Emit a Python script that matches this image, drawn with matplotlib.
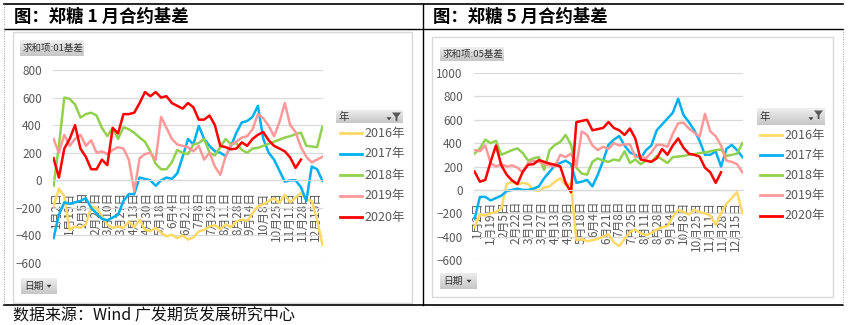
import numpy as np
import matplotlib
matplotlib.use("Agg")
import matplotlib.pyplot as plt
from matplotlib.lines import Line2D
from matplotlib.patches import Rectangle, Polygon

plt.rcParams['font.family'] = ['Noto Sans CJK SC', 'DejaVu Sans']

W, H = 853, 325
nan = np.nan

# ---------------- data ----------------
date_labels = ['1月2日', '1月19日', '2月5日', '2月22日', '3月10日', '3月27日', '4月13日',
               '4月30日', '5月18日', '6月4日', '6月21日', '7月8日', '7月25日', '8月11日',
               '8月28日', '9月14日', '10月8日', '10月25日', '11月11日', '11月28日', '12月15日']
years = ['2016年', '2017年', '2018年', '2019年', '2020年']
colors = ['#FFD966', '#00B0F0', '#92D050', '#FF9999', '#FF0000']

# chart 1: 01 basis, sampled every 5th trading-day category
y2016_01 = [-190, -60, -115, -360, -335, -345, -320, -190, -200, -260, -320, -345, -335, -345, -300,
            -340, -285, -360, -370, -345, -380, -407, -395, -420, -400, -430, -415, -370, -360, -335,
            -325, -355, -320, -340, -300, -285, -295, -240, -190, -175, -150, -130, -165, -105, -160,
            -125, -92, -140, -150, -285, -470]
y2017_01 = [-420, -250, -160, -170, -160, -150, -130, -200, -240, -280, -290, -270, -250, -150, -100,
            -100, 20, 10, 0, -40, 0, 20, 10, 50, 170, 300, 260, 395, 300, 250,
            210, 200, 175, 250, 345, 420, 430, 460, 540, 300, 200, 150, 70, -10, 0,
            0, -50, -150, 100, 80, -5]
y2018_01 = [-40, 250, 600, 590, 550, 455, 480, 490, 470, 380, 320, 380, 300, 385, 370,
            345, 310, 280, 210, 120, 80, 80, 130, 220, 200, 190, 260, 270, 300, 200,
            180, 240, 300, 260, 270, 220, 200, 230, 235, 250, 265, 280, 295, 310, 320,
            335, 345, 250, 245, 240, 390]
y2019_01 = [300, 200, 330, 250, 300, 330, 250, 290, 200, 210, 190, 220, 240, 230, 150,
            -80, 160, 190, 200, 150, 460, 380, 300, 260, 250, 240, 210, 250, 150, 200,
            100, 40, 175, 260, 280, 310, 320, 370, 480, 450, 395, 320, 420, 560, 400,
            350, 240, 170, 130, 150, 170]
y2020_01 = [160, 20, 230, 300, 400, 230, 170, 80, 80, 150, 110, 380, 340, 480, 480,
            490, 560, 640, 610, 640, 600, 610, 560, 540, 520, 560, 530, 440, 440, 470,
            400, 250, 240, 225, 230, 275, 250, 300, 330, 350, 290, 250, 230, 210, 165,
            90, 150, nan, nan, nan, nan]

# chart 2: 05 basis
y2016_05 = [-320, -210, -220, -200, -190, -160, 50, 70, 45, 60, 50, 0, -10, 20, 30,
            70, 100, 40, 50, -430, -420, -440, -430, -420, -400, -380, -450, -480, -420, -360,
            -340, -370, -390, -370, -340, -320, -310, -230, -170, -190, -210, -170, -190, -200, -220,
            -300, -200, -120, -70, -20, -200]
y2017_05 = [-250, -60, -60, -90, -70, -50, -10, 0, 10, 0, 0, 10, 30, 100, 155,
            210, 230, 250, 220, 60, 70, 85, 30, 130, 250, 385, 430, 460, 380, 320,
            300, 270, 340, 380, 510, 560, 610, 660, 780, 640, 580, 510, 420, 300, 300,
            330, 200, 350, 385, 340, 280]
y2018_05 = [310, 355, 430, 400, 420, 300, 320, 340, 355, 315, 250, 270, 280, 170, 340,
            385, 410, 470, 385, 190, 140, 130, 240, 270, 250, 240, 260, 250, 330, 230,
            260, 220, 250, 240, 290, 260, 230, 280, 285, 290, 300, 305, 315, 320, 330,
            340, 345, 290, 300, 310, 400]
y2019_05 = [340, 330, 380, 230, 200, 220, 200, 210, 190, 150, 230, 250, 240, 220, 210,
            200, 300, 280, 310, 200, 500, 470, 380, 340, 370, 350, 400, 380, 390, 390,
            280, 290, 270, 320, 385, 385, 370, 480, 570, 575, 525, 490, 455, 650, 500,
            460, 380, 250, 240, 220, 150]
y2020_05 = [157, 70, 85, 240, 380, 210, 130, 80, 50, 155, 215, 220, 255, 240, 225,
            215, 200, 60, -20, 580, 590, 600, 510, 520, 530, 580, 530, 510, 470, 525,
            440, 260, 250, 240, 270, 350, 300, 380, 440, 360, 310, 300, 285, 190, 150,
            60, 150, nan, nan, nan, nan]

series_01 = [y2016_01, y2017_01, y2018_01, y2019_01, y2020_01]
series_05 = [y2016_05, y2017_05, y2018_05, y2019_05, y2020_05]

n_cat = 250
sample_step = 5
label_step = 12
label_start = 3

# ---------------- helpers ----------------
fig = plt.figure(figsize=(W / 100, H / 100), dpi=100)
fig.patch.set_facecolor('white')


def fx(p):
    return p / W


def fy(p):
    return 1 - p / H


def hline(x0, x1, y, **kw):
    fig.add_artist(Line2D([fx(x0), fx(x1)], [fy(y), fy(y)], transform=fig.transFigure, **kw))


def vline(x, y0, y1, **kw):
    fig.add_artist(Line2D([fx(x), fx(x)], [fy(y0), fy(y1)], transform=fig.transFigure, **kw))


def rect(x0, y0, x1, y1, **kw):
    fig.add_artist(Rectangle((fx(x0), fy(y1)), fx(x1) - fx(x0), fy(y0) - fy(y1),
                             transform=fig.transFigure, **kw))


def button(x0, y0, x1, y1):
    bax = fig.add_axes([fx(x0), fy(y1), fx(x1) - fx(x0), fy(y0) - fy(y1)])
    grad = np.linspace(0.93, 0.78, 20).reshape(-1, 1)
    bax.imshow(np.repeat(grad, 2, axis=1), cmap='gray', vmin=0, vmax=1, aspect='auto')
    bax.set_axis_off()


def dropdown(x, y):
    fig.add_artist(Polygon([[fx(x - 2.5), fy(y - 1.2)], [fx(x + 2.5), fy(y - 1.2)], [fx(x), fy(y + 1.8)]],
                           closed=True, transform=fig.transFigure, color='#404040', lw=0))


def funnel(x, y):
    pts = [(x, y), (x + 9, y), (x + 5.5, y + 4.5), (x + 5.5, y + 9), (x + 3.5, y + 8), (x + 3.5, y + 4.5)]
    fig.add_artist(Polygon([[fx(a), fy(b)] for a, b in pts], closed=True,
                           transform=fig.transFigure, color='#595959', lw=0))


# ---------------- frame ----------------
hline(4, 843, 4, color='black', lw=1.2)
hline(4, 843, 29, color='black', lw=1.0)
hline(4, 843, 305, color='black', lw=1.2)
vline(423, 4, 305, color='black', lw=1.0)
vline(4, 4, 305, color='#A0A0A0', lw=0.7, ls=(0, (1, 1.5)))
vline(843, 29, 305, color='#A0A0A0', lw=0.7, ls=(0, (1, 1.5)))

fig.text(fx(14), fy(16.5), '图：郑糖 1 月合约基差', fontsize=12.5, fontweight='bold', va='center', ha='left')
fig.text(fx(433), fy(16.5), '图：郑糖 5 月合约基差', fontsize=12.5, fontweight='bold', va='center', ha='left')
fig.text(fx(13), fy(316), '数据来源：Wind 广发期货发展研究中心', fontsize=11.5, va='center', ha='left',
         color='#111111')

# ---------------- charts ----------------
panels = [
    dict(series=series_01, ylim=(-600, 800), ax=(53, 70, 323, 263), area=(13, 32, 412, 303),
         btn=(20, 40, 84, 56), btn_text='求和项:01基差', date_btn=(21, 278, 57, 294),
         leg_box=(336, 110, 403, 123), leg_x=340, leg_y=[133, 154, 175, 196, 217]),
    dict(series=series_05, ylim=(-600, 1000), ax=(474, 73, 743, 260), area=(432, 37, 833, 297),
         btn=(440, 47, 504, 61), btn_text='求和项:05基差', date_btn=(440, 273, 477, 289),
         leg_box=(757, 108, 825, 125), leg_x=760, leg_y=[135, 155, 175, 195, 216]),
]

sample_pos = np.arange(0, n_cat + 1, sample_step)
tick_pos = label_start + label_step * np.arange(len(date_labels))

for p in panels:
    a0, a1, a2, a3 = p['area']
    rect(a0, a1, a2, a3, fill=False, edgecolor='#D9D9D9', lw=1.0)

    x0, y0, x1, y1 = p['ax']
    ax = fig.add_axes([fx(x0), fy(y1), fx(x1) - fx(x0), fy(y0) - fy(y1)])
    for vals, c in zip(p['series'], colors):
        ax.plot(sample_pos, vals, color=c, lw=1.8, solid_joinstyle='round')
    ax.set_xlim(-0.5, n_cat + 0.5)
    ax.set_ylim(*p['ylim'])
    ax.set_yticks(np.arange(p['ylim'][0], p['ylim'][1] + 1, 200))
    ax.yaxis.grid(True, color='#D9D9D9', lw=0.9)
    ax.set_axisbelow(True)
    for s in ['top', 'right', 'left']:
        ax.spines[s].set_visible(False)
    ax.spines['bottom'].set_position(('data', 0))
    ax.spines['bottom'].set_color('#D9D9D9')
    ax.spines['bottom'].set_linewidth(0.9)
    ax.set_xticks(tick_pos)
    ax.set_xticklabels(date_labels, rotation=90, fontsize=8.5, color='#595959')
    ax.tick_params(axis='x', length=0, pad=8)
    ax.tick_params(axis='y', length=0, pad=8, labelsize=8.5, labelcolor='#595959')
    ax.patch.set_alpha(0)

    b0, b1, b2, b3 = p['btn']
    button(b0, b1, b2, b3)
    fig.text(fx(b0 + 3), fy((b1 + b3) / 2), p['btn_text'], fontsize=6.8, va='center', ha='left',
             color='#333333')

    d0, d1, d2, d3 = p['date_btn']
    button(d0, d1, d2, d3)
    fig.text(fx(d0 + 3), fy((d1 + d3) / 2), '日期', fontsize=7, va='center', ha='left', color='#333333')
    dropdown(d2 - 8, (d1 + d3) / 2)

    l0, l1, l2, l3 = p['leg_box']
    button(l0, l1, l2, l3)
    fig.text(fx(l0 + 3), fy((l1 + l3) / 2), '年', fontsize=7.5, va='center', ha='left', color='#333333')
    dropdown(l2 - 14, (l1 + l3) / 2 + 2)
    funnel(l2 - 11, l1 + 2.5)

    lx = p['leg_x']
    for yr, c, ly in zip(years, colors, p['leg_y']):
        hline(lx, lx + 22, ly, color=c, lw=2.0)
        fig.text(fx(lx + 24), fy(ly), yr, fontsize=9, va='center', ha='left', color='#595959')

fig.savefig('out.png', dpi=100, facecolor='white')
